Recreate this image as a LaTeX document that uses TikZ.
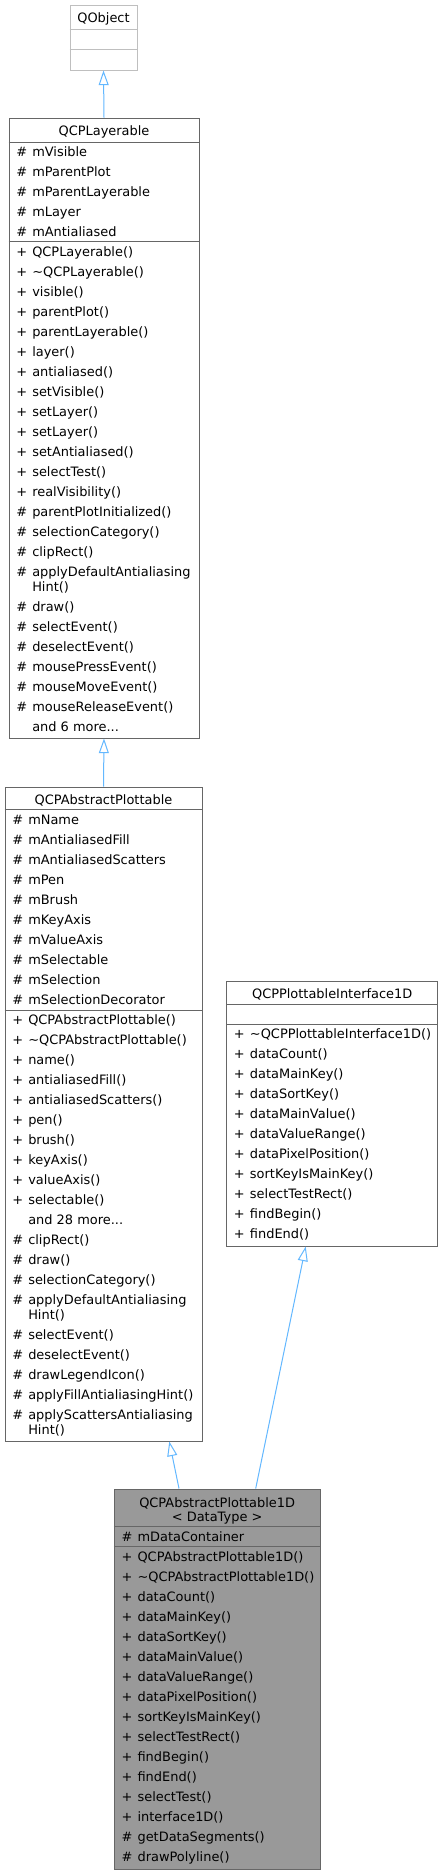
\documentclass[tikz,border=0pt]{standalone}
\usepackage{fontspec}
\setmainfont{DejaVu Sans}
\usetikzlibrary{arrows.meta, fit}
\definecolor{umlborder}{HTML}{666666}
\definecolor{extborder}{HTML}{BFBFBF}
\definecolor{inhblue}{HTML}{63B8FF}
\definecolor{curfill}{HTML}{999999}
\newcommand{\umlfont}{\fontsize{9.7}{11.25}\selectfont}
\newcommand{\threedots}{...}

% rows of one compartment: name, left x, first baseline, list of sym/text
\newcount\rowpos
\def\contmark{*}
\newcommand{\classrows}[4]{%
  \global\rowpos=#3\relax
  \foreach \s/\t [count=\i] in {#4} {
    \ifx\s\contmark
      \global\advance\rowpos by -5
      \node[mem] (#1-w\i) at (#2+23, \the\rowpos) {\t};
    \else
      \node[vis] (#1-v\i) at (#2+7, \the\rowpos) {\s};
      \node[mem] (#1-m\i) at (#2+23, \the\rowpos) {\t};
    \fi
    \global\advance\rowpos by 20
  }}

\begin{document}
\begin{tikzpicture}[
  x=0.75pt, y=-0.75pt, font=\umlfont,
  cls/.style={draw=umlborder, line width=0.75pt, inner sep=0pt, fill=white},
  divider/.style={draw=#1, line width=0.75pt},
  divider/.default=umlborder,
  title/.style={anchor=base, inner sep=0pt},
  vis/.style={anchor=base west, inner sep=0pt},
  mem/.style={anchor=base west, inner sep=0pt},
  inh/.style={draw=inhblue, line width=0.75pt, -{Triangle[open, length=11pt, width=7.5pt]}},
]
  \path[fill=white] (0,0) rectangle (443,1875);

  % QObject
  \node[cls, draw=extborder, fit={(70,5) (137,70)}] (qobj) {};
  \node[title] (qobj-t) at (qobj.north |- 0,22) {QObject};
  \draw[divider=extborder] (qobj.west |- 0,29) -- (qobj.east |- 0,29);
  \draw[divider=extborder] (qobj.west |- 0,49) -- (qobj.east |- 0,49);

  % QCPLayerable
  \node[cls, fit={(9,118) (199,738)}] (lay) {};
  \node[title] (lay-t) at (lay.north |- 0,135.5) {QCPLayerable};
  \draw[divider] (lay.west |- 0,142) -- (lay.east |- 0,142);
  \draw[divider] (lay.west |- 0,241) -- (lay.east |- 0,241);
  \classrows{laya}{9}{156}{\#/mVisible, \#/mParentPlot, \#/mParentLayerable,
    \#/mLayer, \#/mAntialiased}
  \classrows{laym}{9}{256}{+/QCPLayerable(), +/\textasciitilde QCPLayerable(),
    +/visible(), +/parentPlot(), +/parentLayerable(), +/layer(), +/antialiased(),
    +/setVisible(), +/setLayer(), +/setLayer(), +/setAntialiased(), +/selectTest(),
    +/realVisibility(), \#/parentPlotInitialized(), \#/selectionCategory(),
    \#/clipRect(), \#/applyDefaultAntialiasing, */Hint(), \#/draw(),
    \#/selectEvent(), \#/deselectEvent(), \#/mousePressEvent(),
    \#/mouseMoveEvent(), \#/mouseReleaseEvent(), /and 6 more\threedots}

  % QCPAbstractPlottable
  \node[cls, fit={(5,787) (202,1441)}] (ap) {};
  \node[title] (ap-t) at (ap.north |- 0,804) {QCPAbstractPlottable};
  \draw[divider] (ap.west |- 0,809.5) -- (ap.east |- 0,809.5);
  \draw[divider] (ap.west |- 0,1010) -- (ap.east |- 0,1010);
  \classrows{apa}{5}{824}{\#/mName, \#/mAntialiasedFill, \#/mAntialiasedScatters,
    \#/mPen, \#/mBrush, \#/mKeyAxis, \#/mValueAxis, \#/mSelectable,
    \#/mSelection, \#/mSelectionDecorator}
  \classrows{apm}{5}{1024}{+/QCPAbstractPlottable(),
    +/\textasciitilde QCPAbstractPlottable(), +/name(), +/antialiasedFill(),
    +/antialiasedScatters(), +/pen(), +/brush(), +/keyAxis(), +/valueAxis(),
    +/selectable(), /and 28 more\threedots, \#/clipRect(), \#/draw(),
    \#/selectionCategory(), \#/applyDefaultAntialiasing, */Hint(),
    \#/selectEvent(), \#/deselectEvent(), \#/drawLegendIcon(),
    \#/applyFillAntialiasingHint(), \#/applyScattersAntialiasing, */Hint()}

  % QCPPlottableInterface1D
  \node[cls, fit={(226.7,981) (437.7,1246)}] (itf) {};
  \node[title] (itf-t) at (itf.north |- 0,998.5) {QCPPlottableInterface1D};
  \draw[divider] (itf.west |- 0,1004.3) -- (itf.east |- 0,1004.3);
  \draw[divider] (itf.west |- 0,1024.3) -- (itf.east |- 0,1024.3);
  \classrows{itfm}{226.7}{1038}{+/\textasciitilde QCPPlottableInterface1D(),
    +/dataCount(), +/dataMainKey(), +/dataSortKey(), +/dataMainValue(),
    +/dataValueRange(), +/dataPixelPosition(), +/sortKeyIsMainKey(),
    +/selectTestRect(), +/findBegin(), +/findEnd()}

  % QCPAbstractPlottable1D
  \node[cls, fill=curfill, fit={(114.3,1489) (320,1869)}] (p1d) {};
  \node[title] (p1d-t) at (p1d.north |- 0,1507) {QCPAbstractPlottable1D};
  \node[title] (p1d-tt) at (p1d.north |- 0,1521.5) {< DataType >};
  \draw[divider] (p1d.west |- 0,1526.7) -- (p1d.east |- 0,1526.7);
  \draw[divider] (p1d.west |- 0,1546.5) -- (p1d.east |- 0,1546.5);
  \classrows{p1da}{114.3}{1541}{\#/mDataContainer}
  \classrows{p1dm}{114.3}{1561}{+/QCPAbstractPlottable1D(),
    +/\textasciitilde QCPAbstractPlottable1D(), +/dataCount(), +/dataMainKey(),
    +/dataSortKey(), +/dataMainValue(), +/dataValueRange(),
    +/dataPixelPosition(), +/sortKeyIsMainKey(), +/selectTestRect(),
    +/findBegin(), +/findEnd(), +/selectTest(), +/interface1D(),
    \#/getDataSegments(), \#/drawPolyline()}

  % inheritance
  \draw[inh] (lay.north) -- (qobj.south);
  \draw[inh] (ap.north) -- (lay.south);
  \draw[inh] (p1d.north -| 179,0) -- (ap.south -| 169.3,0);
  \draw[inh] (p1d.north -| 255.7,0) -- (itf.south -| 305.7,0);
\end{tikzpicture}
\end{document}
